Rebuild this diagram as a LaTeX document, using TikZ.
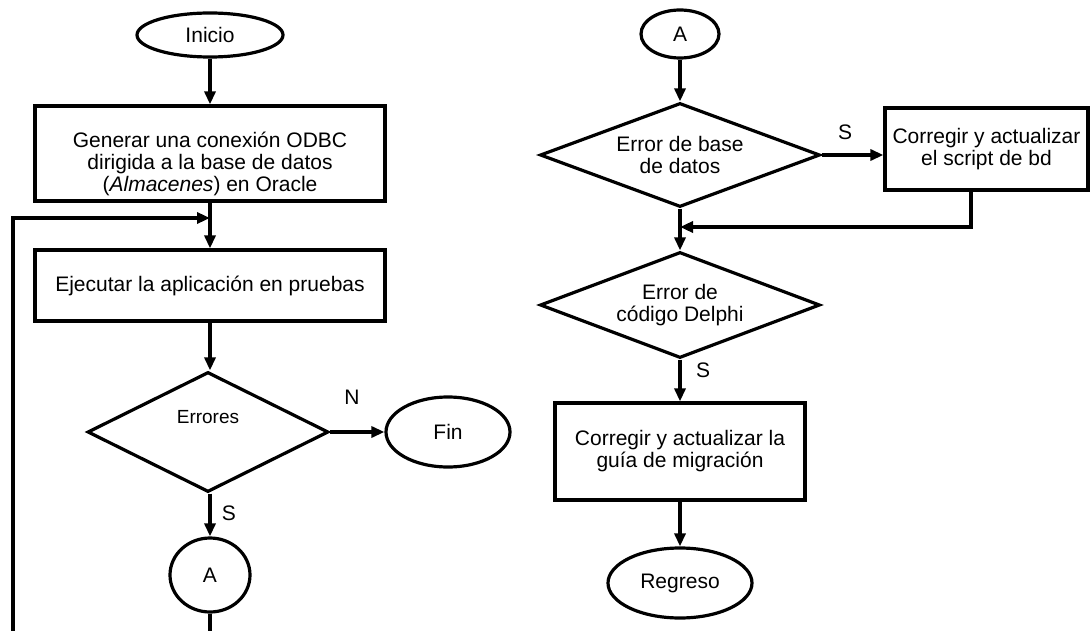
\documentclass[tikz,border=0pt]{standalone}
\usepackage{fontspec}
\setmainfont{Liberation Sans}
\usetikzlibrary{shapes.geometric,arrows.meta}
\begin{document}
\begin{tikzpicture}[x=1pt,y=-1pt,
  line width=3.2pt,
  every node/.style={font=\fontsize{21}{22}\selectfont},
  proc/.style={draw, rectangle, inner sep=0pt, align=center},
  term/.style={draw, ellipse, inner sep=0pt},
  decision/.style={draw, diamond, inner sep=0pt, align=center, shape aspect=2.5},
  flow/.style={-{Triangle[length=13pt,width=11pt]}},
  tag/.style={inner sep=0pt}
]
\clip (0,0) rectangle (1092,631);
\fill[white] (0,0) rectangle (1092,631);

% left column
\node[term, minimum width=146pt, minimum height=44pt] (inicio) at (210,35) {Inicio};
\node[proc, minimum width=350pt, minimum height=95pt,
  label={[align=center, yshift=-10pt]center:Generar una conexión ODBC\\dirigida a la base de datos\\(\textit{Almacenes}) en Oracle}]
  (conexion) at (210,153.5) {};
\node[proc, minimum width=350pt, minimum height=71pt] (ejecutar) at (210,285.5) {Ejecutar la aplicación en pruebas};
\node[decision, minimum width=241pt, minimum height=120pt] (errores) at (208,432) {};
\node[tag, font=\fontsize{19}{20}\selectfont] (errtxt) at (208,417) {Errores};
\node[term, minimum width=124pt, minimum height=70pt] (fin) at (448,432) {Fin};
\node[term, minimum width=80pt, minimum height=74pt] (conA) at (210,575) {A};
\node[tag] (lblN) at (352,397) {N};
\node[tag] (lblS1) at (229,513) {S};

\coordinate (loopcorner) at (13,645);
\coordinate (looptop) at (13,218);
\coordinate (loopin) at (210,218);

\draw[flow] (inicio) -- (conexion);
\draw[flow] (conexion) -- (ejecutar);
\draw[flow] (ejecutar) -- (errores.north -| ejecutar);
\draw[flow] (errores.east) -- (fin.west);
\draw[flow] (errores.south -| conA) -- (conA.north);
\draw[flow] (conA.south) |- (loopcorner) -- (looptop) -- (loopin);

% right column
\node[term, minimum width=78pt, minimum height=48pt] (conA2) at (680,34) {A};
\node[decision, minimum width=280pt, minimum height=104pt] (errbd) at (680,155) {Error de base\\de datos};
\node[proc, minimum width=203pt, minimum height=82pt] (script) at (986.5,149) {Corregir y actualizar\\el script de bd};
\node[decision, minimum width=280pt, minimum height=106pt] (errdelphi) at (680,305) {Error de\\código Delphi};
\node[proc, minimum width=250pt, minimum height=97pt] (guia) at (680,451.5) {Corregir y actualizar la\\guía de migración};
\node[term, minimum width=144pt, minimum height=70pt] (regreso) at (680,583) {Regreso};
\node[tag] (lblS2) at (845,132) {S};
\node[tag] (lblS3) at (703,370) {S};

\coordinate (fbcorner) at (971,227);
\coordinate (fbin) at (680,227);

\draw[flow] (conA2) -- (errbd);
\draw[flow] (errbd.east) -- (errbd.east -| script.west);
\draw[flow] (errbd) -- (errdelphi);
\draw[flow] (script.south -| fbcorner) -- (fbcorner) -- (fbin);
\draw[flow] (errdelphi) -- (guia);
\draw[flow] (guia) -- (regreso);
\end{tikzpicture}
\end{document}
